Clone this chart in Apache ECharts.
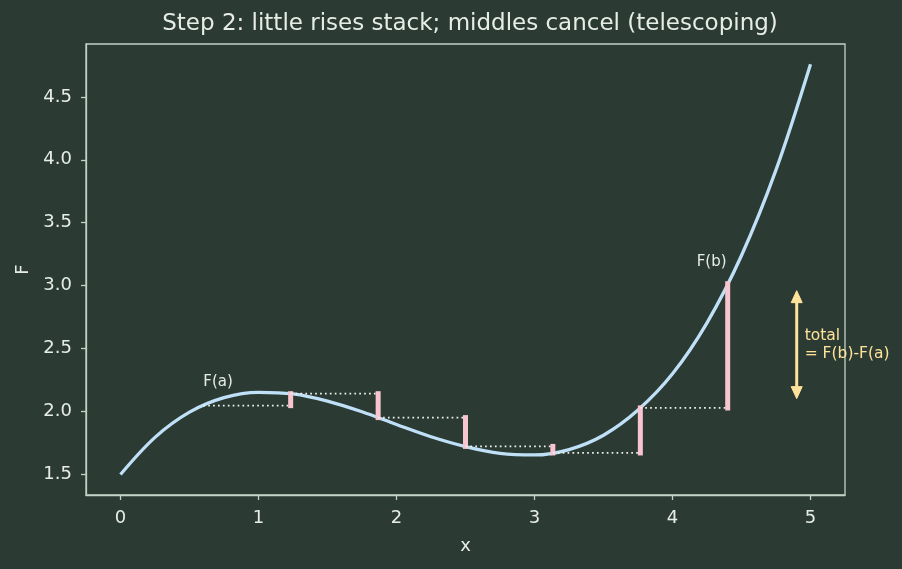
<!DOCTYPE html>
<html>
<head>
<meta charset="utf-8">
<script src="https://cdn.jsdelivr.net/npm/echarts@6/dist/echarts.min.js"></script>
<style>
  html, body { margin: 0; padding: 0; background: #2b3b34; }
  #chart { width: 902px; height: 569px; }
</style>
</head>
<body>
<div id="chart"></div>
<script>
// curve F(x)
const curveX = [0, 0.25, 0.5, 0.75, 1.0, 1.25, 1.5, 1.75, 2.0, 2.25, 2.5,
  2.75, 3.0, 3.25, 3.5, 3.75, 4.0, 4.25, 4.5, 4.75, 5.0];
const curveF = [1.5, 1.795, 1.995, 2.11, 2.153, 2.14, 2.083, 1.998, 1.897, 1.8, 1.722,
  1.668, 1.655, 1.698, 1.812, 2.012, 2.3, 2.705, 3.24, 3.92, 4.76];

// partition points a = x0 .. b = x6 and F at each
const stepX = [0.6, 1.233, 1.867, 2.5, 3.133, 3.767, 4.4];
const stepF = [2.047, 2.142, 1.952, 1.723, 1.671, 2.029, 3.016];

const xTicks = [0, 1, 2, 3, 4, 5];
const yTicks = [1.5, 2.0, 2.5, 3.0, 3.5, 4.0, 4.5];

const FONT = 'DejaVu Sans';
const BG = '#2b3b34';
const FG = '#e6ede6';
const SPINE = '#c3d2c6';
const CURVE = '#bfe0f7';
const PINK = '#f7c4d0';
const GOLD = '#ffe39a';

const chart = echarts.init(document.getElementById('chart'), null, { renderer: 'canvas' });

const stepData = stepX.slice(1).map((x, i) => [stepX[i], stepF[i], x, stepF[i + 1]]);

const option = {
  backgroundColor: BG,
  animation: false,
  title: {
    text: 'Step 2: little rises stack; middles cancel (telescoping)',
    left: 465,
    top: 8,
    textAlign: 'center',
    textStyle: { color: FG, fontFamily: FONT, fontSize: 23, fontWeight: 'normal' }
  },
  grid: {
    left: 86, right: 57, top: 44, bottom: 74,
    show: true, borderColor: SPINE, borderWidth: 1.3, backgroundColor: 'transparent'
  },
  xAxis: {
    type: 'value',
    min: -0.25, max: 5.25,
    name: 'x', nameLocation: 'middle', nameGap: 42,
    nameTextStyle: { color: FG, fontFamily: FONT, fontSize: 18 },
    axisLine: { onZero: false, lineStyle: { color: SPINE, width: 1.3 } },
    axisTick: { customValues: xTicks, length: 5, lineStyle: { color: SPINE, width: 1.3 } },
    axisLabel: { customValues: xTicks, color: FG, fontFamily: FONT, fontSize: 18, margin: 14 },
    splitLine: { show: false }
  },
  yAxis: {
    type: 'value',
    min: 1.337, max: 4.92,
    name: 'F', nameLocation: 'middle', nameGap: 53,
    nameTextStyle: { color: FG, fontFamily: FONT, fontSize: 18 },
    axisLine: { show: true, onZero: false, lineStyle: { color: SPINE, width: 1.3 } },
    axisTick: { show: true, customValues: yTicks, length: 5, lineStyle: { color: SPINE, width: 1.3 } },
    axisLabel: {
      customValues: yTicks, color: FG, fontFamily: FONT, fontSize: 18, margin: 14,
      formatter: v => Number(v).toFixed(1)
    },
    splitLine: { show: false }
  },
  series: [
    {
      type: 'line',
      data: curveX.map((x, i) => [x, curveF[i]]),
      smooth: 0.35,
      showSymbol: false,
      lineStyle: { color: CURVE, width: 3.3 },
      z: 2
    },
    {
      type: 'custom',
      data: stepData,
      encode: { x: [0, 2], y: [1, 3] },
      z: 3,
      renderItem: (params, api) => {
        const x0 = api.value(0), f0 = api.value(1), x1 = api.value(2), f1 = api.value(3);
        const a = api.coord([x0, f0]);
        const b = api.coord([x1, f0]);
        const c = api.coord([x1, f1]);
        return {
          type: 'group',
          children: [
            {
              type: 'line',
              shape: { x1: a[0], y1: a[1], x2: b[0], y2: b[1] },
              style: { stroke: '#eef2ee', lineWidth: 1.7, lineDash: [1.7, 3.2] }
            },
            {
              type: 'line',
              shape: { x1: b[0], y1: b[1], x2: c[0], y2: c[1] },
              style: { stroke: PINK, lineWidth: 5, lineCap: 'square' }
            }
          ]
        };
      }
    },
    {
      // labels and the total arrow
      type: 'custom',
      data: [[stepX[0], stepF[0], stepX[stepX.length - 1], stepF[stepF.length - 1]]],
      encode: { x: [0, 2], y: [1, 3] },
      z: 4,
      renderItem: (params, api) => {
        const pa = api.coord([api.value(0), api.value(1)]);
        const pb = api.coord([api.value(2), api.value(3)]);
        const ax = api.coord([4.9, api.value(1)])[0];
        const top = pb[1] + 7, bot = pa[1] - 7;
        const hw = 5.5, hh = 12;
        return {
          type: 'group',
          children: [
            {
              type: 'text',
              style: { x: pa[0], y: pa[1] - 24, text: 'F(a)', fill: FG, font: '15px "DejaVu Sans"', verticalAlign: 'middle', align: 'left' }
            },
            {
              type: 'text',
              style: { x: pb[0] - 31, y: pb[1] - 22, text: 'F(b)', fill: FG, font: '15px "DejaVu Sans"', verticalAlign: 'middle', align: 'left' }
            },
            {
              type: 'line',
              shape: { x1: ax, y1: top + hh - 2, x2: ax, y2: bot - hh + 2 },
              style: { stroke: GOLD, lineWidth: 3 }
            },
            {
              type: 'polygon',
              shape: { points: [[ax, top], [ax - hw, top + hh], [ax + hw, top + hh]] },
              style: { fill: GOLD, stroke: GOLD, lineWidth: 1, lineJoin: 'round' }
            },
            {
              type: 'polygon',
              shape: { points: [[ax, bot], [ax - hw, bot - hh], [ax + hw, bot - hh]] },
              style: { fill: GOLD, stroke: GOLD, lineWidth: 1, lineJoin: 'round' }
            },
            {
              type: 'text',
              style: {
                x: ax + 8, y: (pa[1] + pb[1]) / 2, text: 'total\n= F(b)-F(a)', fill: GOLD,
                font: '15.5px "DejaVu Sans"', lineHeight: 18, verticalAlign: 'middle', align: 'left'
              }
            }
          ]
        };
      }
    }
  ]
};

chart.setOption(option);
</script>
</body>
</html>
